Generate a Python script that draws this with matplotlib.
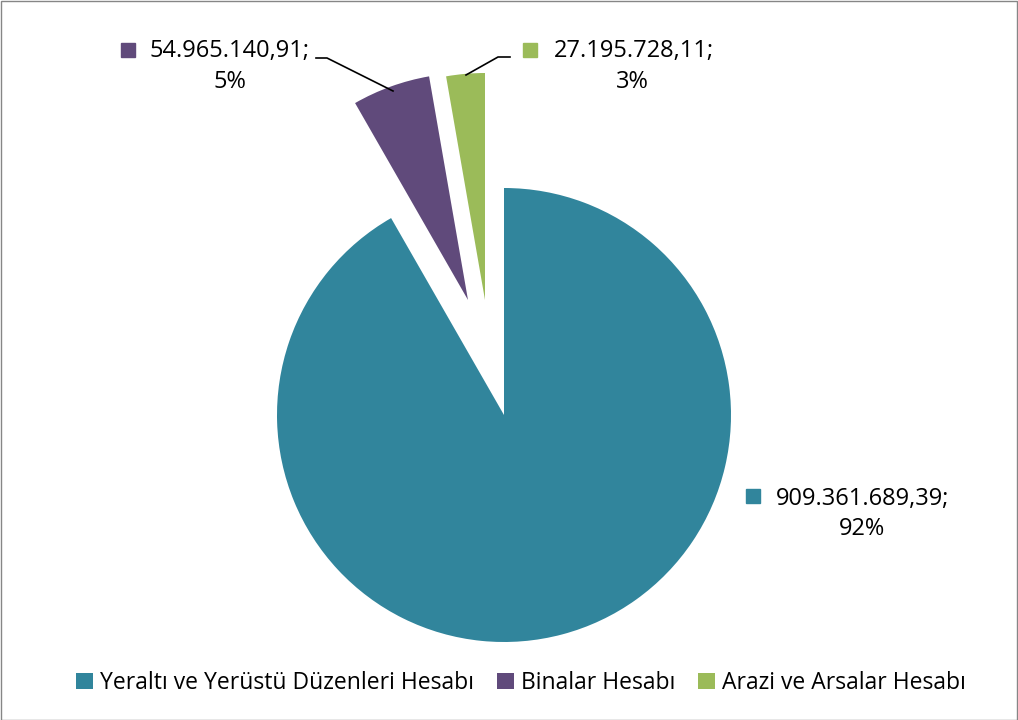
import matplotlib.pyplot as plt
from matplotlib.patches import Rectangle

# chart data
labels = ['Yeraltı ve Yerüstü Düzenleri Hesabı', 'Binalar Hesabı', 'Arazi ve Arsalar Hesabı']
values = [909361689.39, 54965140.91, 27195728.11]
value_text = ['909.361.689,39;', '54.965.140,91;', '27.195.728,11;']
pct_text = ['92%', '5%', '3%']
colors = ['#31859C', '#604A7B', '#9BBB59']

plt.rcParams['font.family'] = ['Open Sans', 'DejaVu Sans']

W, H = 1018, 720
R = 227
CX, CY = 504, 415
fig = plt.figure(figsize=(W / 100, H / 100), dpi=100)
ax = fig.add_axes([0, 0, 1, 1])

def Y(y):
    # image pixel row -> axes y
    return H - y

# pie explode is in data units, so scale with the radius
explode = [0, 0.53 * R, 0.53 * R]
wedges, _ = ax.pie(values, colors=colors, explode=explode, startangle=90,
                   counterclock=False, center=(CX, Y(CY)), radius=R,
                   wedgeprops=dict(linewidth=0))
# excel pulls the small slices out slightly differently, nudge them
wedges[1].set_center((CX - 36, Y(CY - 115)))
wedges[2].set_center((CX - 19, Y(CY - 115)))
ax.set_xlim(0, W)
ax.set_ylim(0, H)
ax.set_aspect('equal')
ax.axis('off')

fs = 17
# data labels: (square x, square y, text x, line1 y, pct x, pct y)
lab_pos = [(753, 496, 863, 499, 862, 529),
           (128, 50, 230, 51, 230, 82),
           (530, 50, 634, 51, 632, 82)]
for i, (sx, sy, tx, ty, px, py) in enumerate(lab_pos):
    ax.plot(sx, Y(sy), marker='s', markersize=10, color=colors[i], linestyle='none')
    ax.text(tx, Y(ty), value_text[i], ha='center', va='center', fontsize=fs, color='black')
    ax.text(px, Y(py), pct_text[i], ha='center', va='center', fontsize=fs, color='black')

# leader lines
ax.plot([316, 327, 393], [Y(58), Y(58), Y(91)], color='black', lw=1.2)
ax.plot([510, 498, 466], [Y(57), Y(57), Y(75)], color='black', lw=1.2)

fig.legend(wedges, labels, loc='center', bbox_to_anchor=(521 / W, 1 - 683 / H), ncol=3,
           frameon=False, fontsize=16.5, handlelength=0.75, handleheight=0.75,
           handletextpad=0.3, columnspacing=1.0)

fig.patches.append(Rectangle((0.5 / W, 0.5 / H), 1 - 1.5 / W, 1 - 1.5 / H,
                             transform=fig.transFigure, fill=False,
                             edgecolor='#868686', linewidth=1))

fig.savefig('out.png', dpi=100)
